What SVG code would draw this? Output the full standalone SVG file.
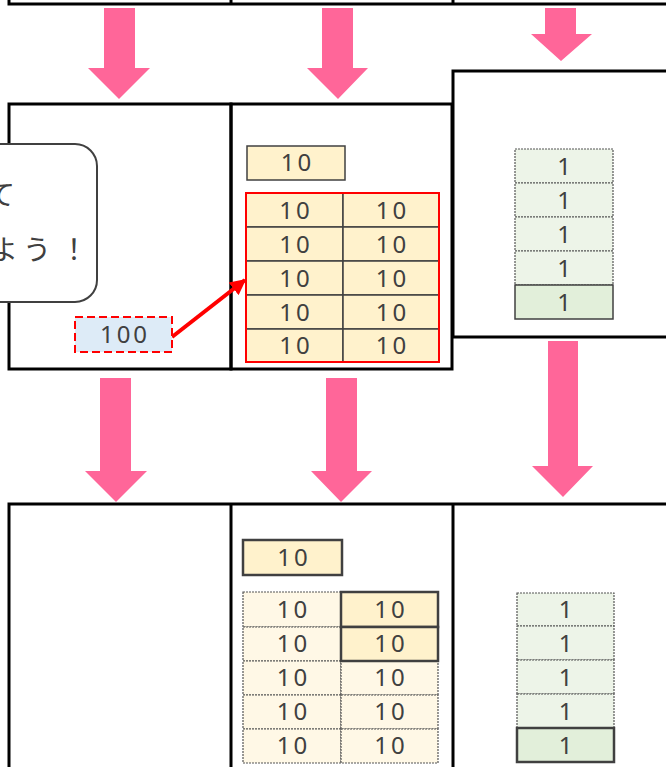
<svg xmlns="http://www.w3.org/2000/svg" width="666" height="767" viewBox="0 0 666 767">
<defs>
<style>
.panel{fill:none;stroke:#000;stroke-width:3}
.pink{fill:#FF6699}
.t{font-family:"Noto Sans","Noto Sans CJK JP",sans-serif;font-size:24px;fill:#404040;text-anchor:middle;letter-spacing:3px}
.jp{font-family:"Noto Sans CJK JP",sans-serif;font-size:28px;fill:#404040;text-anchor:middle}
.y{fill:#FFF2CC;stroke:#404040;stroke-width:1.5}
.yb{fill:#FFF2CC;stroke:#404040;stroke-width:2.5}
.yl{fill:#FFF8E6;stroke:#555;stroke-width:1.2;stroke-dasharray:2 1}
.g{fill:#E2EFDA;stroke:#404040;stroke-width:1.5}
.gl{fill:#EDF4E8;stroke:#555;stroke-width:1.2;stroke-dasharray:2 1}
</style>
<marker id="rh" viewBox="0 0 10 10" refX="9" refY="5" markerWidth="4" markerHeight="4" orient="auto" markerUnits="strokeWidth">
<path d="M0,0 L10,5 L0,10 Z" fill="#FF0000"/>
</marker>
</defs>

<g id="panels">
<path class="panel" d="M9,0 V4 H666 M231,0 V4 M453,0 V4"/>
<rect id="panel-l2" class="panel" x="9" y="104" width="222" height="265"/>
<rect id="panel-m2" class="panel" x="231" y="104" width="221" height="265"/>
<path id="panel-r2" class="panel" d="M666,71 H453 V337 H666"/>
<path id="panel-row3" class="panel" d="M9,767 V504 H666 M231,504 V767 M453,504 V767"/>
</g>

<g id="connectors">
<polygon class="pink" points="104,8 135,8 135,68 150,68 119,99 88,68 104,68"/>
<polygon class="pink" points="322,8 353,8 353,68 368,68 338,99 307,68 322,68"/>
<polygon class="pink" points="545,8 576,8 576,34 592,34 561,61 531,34 545,34"/>
<polygon class="pink" points="100,378 131,378 131,471 147,471 116,502 85,471 100,471"/>
<polygon class="pink" points="326,378 357,378 357,471 372,471 341,502 311,471 326,471"/>
<polygon class="pink" points="548,341 578,341 578,466 593,466 563,497 532,466 548,466"/>
<line x1="172" y1="337" x2="245" y2="280" stroke="#FF0000" stroke-width="4" marker-end="url(#rh)"/>
</g>

<g id="callout">
<rect x="-60" y="144" width="157" height="158" rx="22" fill="#fff" stroke="#404040" stroke-width="2"/>
<text class="jp" x="1" y="205">て</text>
<text class="jp"><tspan x="4" y="260">よ</tspan><tspan x="37" y="260">う</tspan><tspan x="74" y="260">！</tspan></text>
</g>

<g id="node-100">
<rect x="75" y="317" width="97" height="35" fill="#DDEBF7" stroke="#FF0000" stroke-width="2" stroke-dasharray="8 4"/>
<text class="t" x="125" y="343">100</text>
</g>

<g id="top-ten">
<rect class="y" x="247" y="146" width="98" height="34"/>
<text class="t" x="297.5" y="171">10</text>
</g>

<g id="top-grid">
<rect class="y" x="246" y="193" width="97" height="34"/><text class="t" x="296" y="219">10</text>
<rect class="y" x="343" y="193" width="96" height="34"/><text class="t" x="392.5" y="219">10</text>
<rect class="y" x="246" y="227" width="97" height="34"/><text class="t" x="296" y="253">10</text>
<rect class="y" x="343" y="227" width="96" height="34"/><text class="t" x="392.5" y="253">10</text>
<rect class="y" x="246" y="261" width="97" height="34"/><text class="t" x="296" y="287">10</text>
<rect class="y" x="343" y="261" width="96" height="34"/><text class="t" x="392.5" y="287">10</text>
<rect class="y" x="246" y="295" width="97" height="34"/><text class="t" x="296" y="321">10</text>
<rect class="y" x="343" y="295" width="96" height="34"/><text class="t" x="392.5" y="321">10</text>
<rect class="y" x="246" y="329" width="97" height="33"/><text class="t" x="296" y="354">10</text>
<rect class="y" x="343" y="329" width="96" height="33"/><text class="t" x="392.5" y="354">10</text>
<rect x="246" y="193" width="193" height="169" fill="none" stroke="#FF0000" stroke-width="2"/>
</g>

<g id="top-ones">
<rect class="gl" x="515" y="149" width="98" height="34"/><text class="t" x="565.5" y="175">1</text>
<rect class="gl" x="515" y="183" width="98" height="34"/><text class="t" x="565.5" y="209">1</text>
<rect class="gl" x="515" y="217" width="98" height="34"/><text class="t" x="565.5" y="243">1</text>
<rect class="gl" x="515" y="251" width="98" height="34"/><text class="t" x="565.5" y="277">1</text>
<rect class="g" x="515" y="285" width="98" height="34"/><text class="t" x="565.5" y="311">1</text>
</g>

<g id="bottom-ten">
<rect class="yb" x="243" y="540" width="99" height="35"/>
<text class="t" x="294" y="566">10</text>
</g>

<g id="bottom-grid">
<rect class="yl" x="243" y="592" width="98" height="35"/><text class="t" x="293.5" y="618">10</text>
<rect class="yl" x="243" y="627" width="98" height="34"/><text class="t" x="293.5" y="652">10</text>
<rect class="yl" x="243" y="661" width="98" height="34"/><text class="t" x="293.5" y="686">10</text>
<rect class="yl" x="341" y="661" width="97" height="34"/><text class="t" x="391" y="686">10</text>
<rect class="yl" x="243" y="695" width="98" height="34"/><text class="t" x="293.5" y="720">10</text>
<rect class="yl" x="341" y="695" width="97" height="34"/><text class="t" x="391" y="720">10</text>
<rect class="yl" x="243" y="729" width="98" height="34"/><text class="t" x="293.5" y="754">10</text>
<rect class="yl" x="341" y="729" width="97" height="34"/><text class="t" x="391" y="754">10</text>
<rect class="yb" x="341" y="592" width="97" height="35"/><text class="t" x="391" y="618">10</text>
<rect class="yb" x="341" y="627" width="97" height="34"/><text class="t" x="391" y="652">10</text>
</g>

<g id="bottom-ones">
<rect class="gl" x="517" y="593" width="97" height="33"/><text class="t" x="567" y="618">1</text>
<rect class="gl" x="517" y="626" width="97" height="34"/><text class="t" x="567" y="652">1</text>
<rect class="gl" x="517" y="660" width="97" height="34"/><text class="t" x="567" y="686">1</text>
<rect class="gl" x="517" y="694" width="97" height="34"/><text class="t" x="567" y="720">1</text>
<rect class="yb" style="fill:#E2EFDA" x="517" y="728" width="97" height="34"/><text class="t" x="567" y="754">1</text>
</g>
</svg>
